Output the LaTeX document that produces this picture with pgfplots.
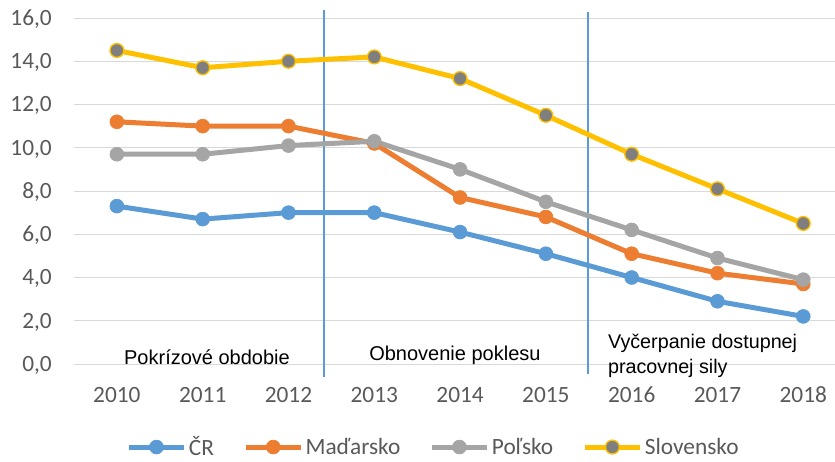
\documentclass[border=0pt]{standalone}
\usepackage{pgfplots}
\pgfplotsset{compat=1.18}
\usepackage{fontspec}
\setmainfont{Liberation Sans}
\newfontfamily\calibri{Carlito}
\definecolor{cblue}{HTML}{5B9BD5}
\definecolor{corange}{HTML}{ED7D31}
\definecolor{cgray}{HTML}{A5A5A5}
\definecolor{cyellow}{HTML}{FFC000}
\definecolor{cdark}{HTML}{7F7F7F}
\definecolor{cgrid}{HTML}{D9D9D9}
\definecolor{ctick}{HTML}{595959}
\begin{document}
\begin{tikzpicture}
\useasboundingbox (-55.5pt,-72.75pt) rectangle (570.75pt,273pt);
\begin{axis}[
  at={(0,0)}, anchor=south west,
  scale only axis, width=570.75pt, height=259.5pt,
  xmin=-0.5, xmax=8.37, ymin=0, ymax=16,
  clip=false,
  axis line style={draw=none},
  xtick={0,...,8},
  xticklabels={2010,2011,2012,2013,2014,2015,2016,2017,2018},
  ytick={0,2,...,16},
  major tick length=0pt,
  ymajorgrids, grid style={cgrid, line width=0.75pt},
  tick label style={font=\calibri\fontsize{17.5}{20}\selectfont, text=ctick, inner sep=0pt},
  xticklabel style={anchor=base, yshift=-29pt},
  yticklabel style={anchor=base east, xshift=-16.5pt, yshift=-5.6pt},
  /pgf/number format/.cd, fixed, fixed zerofill, precision=1, use comma, assume math mode=true,
  /pgfplots/.cd,
  legend columns=4,
  legend style={at={(0.473,-0.24)}, anchor=center, draw=none, fill=none,
    font=\calibri\fontsize{17.5}{20}\selectfont, text=ctick,
    /tikz/every even column/.append style={column sep=20pt}},
  legend image code/.code={\draw[mark repeat=2,mark phase=2] plot coordinates {(0pt,0pt)(20.5pt,0pt)(41pt,0pt)};},
  every axis plot/.append style={line width=3.75pt, mark=*, mark size=5.2pt},
]
\draw[color=cblue, line width=1.1pt] (axis cs:2.414,-0.6) -- (axis cs:2.414,16.35);
\draw[color=cblue, line width=1.1pt] (axis cs:5.49,-0.45) -- (axis cs:5.49,16.3);
\addplot[cblue, mark options={fill=cblue, draw=cblue, line width=0.5pt}] coordinates {(0,7.3)(1,6.7)(2,7.0)(3,7.0)(4,6.1)(5,5.1)(6,4.0)(7,2.9)(8,2.2)};
\addlegendentry{ČR}
\addplot[corange, mark options={fill=corange, draw=corange, line width=0.5pt}] coordinates {(0,11.2)(1,11.0)(2,11.0)(3,10.2)(4,7.7)(5,6.8)(6,5.1)(7,4.2)(8,3.7)};
\addlegendentry{Maďarsko}
\addplot[cgray, mark options={fill=cgray, draw=cgray, line width=0.5pt}] coordinates {(0,9.7)(1,9.7)(2,10.1)(3,10.3)(4,9.0)(5,7.5)(6,6.2)(7,4.9)(8,3.9)};
\addlegendentry{Poľsko}
\addplot[cyellow, mark options={fill=cdark, draw=cyellow, line width=1pt}] coordinates {(0,14.5)(1,13.7)(2,14.0)(3,14.2)(4,13.2)(5,11.5)(6,9.7)(7,8.1)(8,6.5)};
\addlegendentry{Slovensko}
\node[font=\rmfamily\fontsize{15}{16}\selectfont] at (axis cs:1.05,0.32) {Pokrízové obdobie};
\node[font=\rmfamily\fontsize{15}{16}\selectfont] at (axis cs:3.94,0.42) {Obnovenie poklesu};
\node[font=\rmfamily\fontsize{14.8}{18.75}\selectfont, align=left, anchor=west] at (axis cs:5.67,0.39) {Vyčerpanie dostupnej\\pracovnej sily};
\end{axis}
\end{tikzpicture}
\end{document}
